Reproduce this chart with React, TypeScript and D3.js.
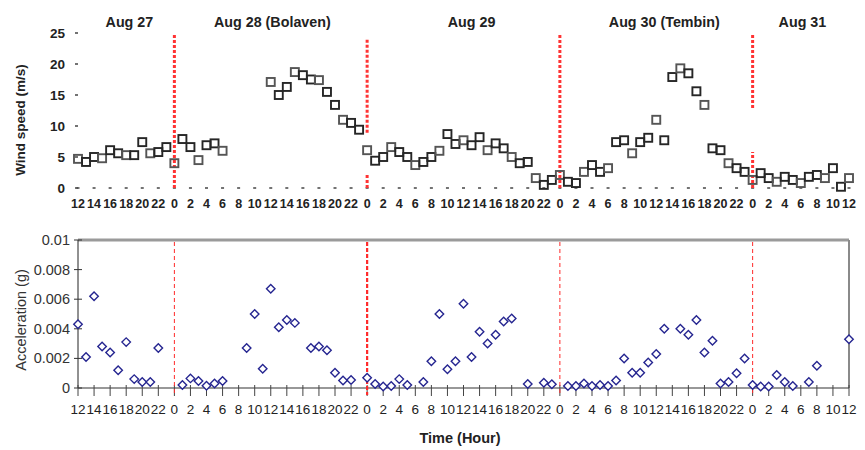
import React from "react";
import * as d3 from "d3";

// hours since Aug 27 12:00, one value per hour (null = missing)
const windSpeed: (number | null)[] = [
  4.7, 4.2, 5.0, 4.8, 6.1, 5.6, 5.3, 5.3, 7.4, 5.6, 5.8, 6.6,
  4.0, 7.9, 6.6, 4.5, 6.9, 7.2, 6.0, null, null, null, null, null,
  17.1, 15.0, 16.3, 18.7, 18.2, 17.5, 17.4, 15.5, 13.4, 11.0, 10.5, 9.4,
  6.1, 4.4, 5.0, 6.6, 5.8, 5.0, 3.7, 4.2, 5.0, 6.0, 8.7, 7.1,
  7.7, 6.9, 8.2, 6.1, 7.2, 6.4, 5.0, 4.0, 4.2, 1.6, 0.5, 1.3,
  2.1, 1.0, 0.8, 2.6, 3.7, 2.6, 3.2, 7.4, 7.7, 5.6, 7.4, 8.1,
  11.0, 7.7, 17.9, 19.3, 18.5, 15.6, 13.4, 6.4, 6.1, 4.0, 3.2, 2.6,
  1.3, 2.4, 1.6, 1.0, 1.8, 1.3, 0.8, 1.8, 2.1, 1.6, 3.2, 0.2, 1.6,
];

const acceleration: (number | null)[] = [
  0.0043, 0.0021, 0.0062, 0.0028, 0.0024, 0.0012, 0.0031, 0.0006, 0.0004, 0.0004, 0.0027, null,
  null, 0.0002, 0.00065, 0.00047, 0.00015, 0.0003, 0.00047, null, null, 0.0027, 0.005, 0.0013,
  0.0067, 0.0041, 0.0046, 0.0044, null, 0.0027, 0.0028, 0.00255, 0.00103, 0.0005, 0.00054, null,
  0.0007, 0.00027, 0.0001, 0.00013, 0.0006, 0.0002, null, 0.0004, 0.0018, 0.005, 0.00126, 0.0018,
  0.0057, 0.0021, 0.0038, 0.003, 0.0036, 0.0045, 0.0047, null, 0.00027, null, 0.00036, 0.00025,
  null, 0.00013, 0.00013, 0.0003, 0.00013, 0.0002, 0.00013, 0.0005, 0.002, 0.00103, 0.00103, 0.00173,
  0.0023, 0.004, null, 0.004, 0.0036, 0.0046, 0.0024, 0.0032, 0.0003, 0.0004, 0.001, 0.002,
  0.0002, 0.0001, 0.0001, 0.00088, 0.0004, 0.00013, null, 0.0004, 0.0015, null, null, null, 0.0033,
];

const hourLabels = [
  "12", "14", "16", "18", "20", "22",
  "0", "2", "4", "6", "8", "10", "12", "14", "16", "18", "20", "22",
  "0", "2", "4", "6", "8", "10", "12", "14", "16", "18", "20", "22",
  "0", "2", "4", "6", "8", "10", "12", "14", "16", "18", "20", "22",
  "0", "2", "4", "6", "8", "10", "12",
];

const dayNames = ["Aug 27", "Aug 28 (Bolaven)", "Aug 29", "Aug 30 (Tembin)", "Aug 31"];
const dayCenters = [6.4, 24.2, 49, 73, 90.2]; // hour positions of day titles
const dayBoundaries = [12, 36, 60, 84];
// visible parts of the top dividers (wind-speed ranges)
const topDividerSegments: [number, number][][] = [
  [[0, 25]],
  [[0, 2.1], [8.9, 24.2]],
  [[0, 24.7]],
  [[0, 5.8], [12.9, 24.7]],
];

const windTicks = [0, 5, 10, 15, 20, 25];
const accelTicks = [0, 0.002, 0.004, 0.006, 0.008, 0.01];
const accelTickLabels = ["0", "0.002", "0.004", "0.006", "0.008", "0.01"];

const FONT = "'Liberation Sans', Arial, sans-serif";

export default function App() {
  const x = d3.scaleLinear().domain([0, 96]).range([78, 849]);
  const yW = d3.scaleLinear().domain([0, 25]).range([188, 33]);
  const yA = d3.scaleLinear().domain([0, 0.01]).range([388, 240]);
  const tickHours = d3.range(0, 97, 2);
  const diamond = d3.symbol().type(d3.symbolDiamond2).size(46)();

  return (
    <svg
      width={865}
      height={450}
      style={{ position: "absolute", left: 0, top: 0, background: "#fff" }}
      fontFamily={FONT}
    >
      {/* ---------- top chart ---------- */}
      {dayNames.map((d, i) => (
        <text key={d} x={x(dayCenters[i])} y={27} textAnchor="middle" fontSize={14.3} fontWeight="bold" fill="#222">
          {d}
        </text>
      ))}
      <text
        transform={`translate(25,${120}) rotate(-90)`}
        textAnchor="middle"
        fontSize={13.5}
        fontWeight="bold"
        fill="#222"
      >
        Wind speed (m/s)
      </text>
      {windTicks.map((t) => (
        <g key={t}>
          <text x={65} y={yW(t) + 4.8} textAnchor="end" fontSize={13.5} fontWeight="bold" fill="#222">
            {t}
          </text>
          <line x1={75} x2={78} y1={yW(t)} y2={yW(t)} stroke="#444" strokeWidth={1.5} />
        </g>
      ))}
      {tickHours.map((h, i) => (
        <g key={h}>
          <line x1={x(h) - 1.5} x2={x(h) + 1.5} y1={188} y2={188} stroke="#444" strokeWidth={1.5} />
          <text x={x(h)} y={207.5} textAnchor="middle" fontSize={12.5} fontWeight="bold" fill="#222">
            {hourLabels[i]}
          </text>
        </g>
      ))}
      {dayBoundaries.map((b, i) =>
        topDividerSegments[i].map(([lo, hi], j) => (
          <line
            key={`${b}-${j}`}
            x1={x(b)}
            x2={x(b)}
            y1={yW(lo)}
            y2={yW(hi)}
            stroke="#ff3333"
            strokeWidth={3}
            strokeDasharray="3 2"
          />
        ))
      )}
      {windSpeed.map((v, h) =>
        v == null ? null : (
          <rect
            key={h}
            x={x(h) - 4}
            y={yW(v) - 4}
            width={8}
            height={8}
            fill="none"
            stroke={h % 3 === 0 ? "#555" : "#262626"}
            strokeWidth={1.9}
          />
        )
      )}

      {/* ---------- bottom chart ---------- */}
      <line x1={78} x2={849} y1={240} y2={240} stroke="#9a9a9a" strokeWidth={3} />
      <line x1={849} x2={849} y1={240} y2={388} stroke="#8a8a8a" strokeWidth={2} />
      <line x1={78} x2={78} y1={240} y2={388} stroke="#222" strokeWidth={1} />
      <line x1={78} x2={849} y1={388} y2={388} stroke="#333" strokeWidth={1.2} />
      {accelTicks.map((t, i) => (
        <g key={t}>
          <line x1={74} x2={82} y1={yA(t)} y2={yA(t)} stroke="#333" strokeWidth={1} />
          <text x={70} y={yA(t) + 5} textAnchor="end" fontSize={14.5} fill="#333">
            {accelTickLabels[i]}
          </text>
        </g>
      ))}
      <text transform={`translate(26,${320}) rotate(-90)`} textAnchor="middle" fontSize={14.5} fill="#333">
        Acceleration (g)
      </text>
      {tickHours.map((h, i) => (
        <g key={h}>
          <line x1={x(h)} x2={x(h)} y1={385} y2={396} stroke="#444" strokeWidth={1} />
          <text x={x(h)} y={414} textAnchor="middle" fontSize={13.5} fill="#222">
            {hourLabels[i]}
          </text>
        </g>
      ))}
      {dayBoundaries.map((b, i) => (
        <line
          key={b}
          x1={x(b)}
          x2={x(b)}
          y1={242}
          y2={395}
          stroke="#ff2a2a"
          strokeWidth={i === 1 ? 2.2 : 1}
          strokeDasharray={i === 1 ? "4 2" : "4 3"}
        />
      ))}
      {acceleration.map((a, h) =>
        a == null ? null : (
          <path
            key={h}
            d={diamond!}
            transform={`translate(${x(h)},${yA(a)})`}
            fill="#fff"
            stroke="#252590"
            strokeWidth={1.4}
          />
        )
      )}
      <text x={460} y={443} textAnchor="middle" fontSize={14.5} fontWeight="bold" fill="#222">
        Time (Hour)
      </text>
    </svg>
  );
}
